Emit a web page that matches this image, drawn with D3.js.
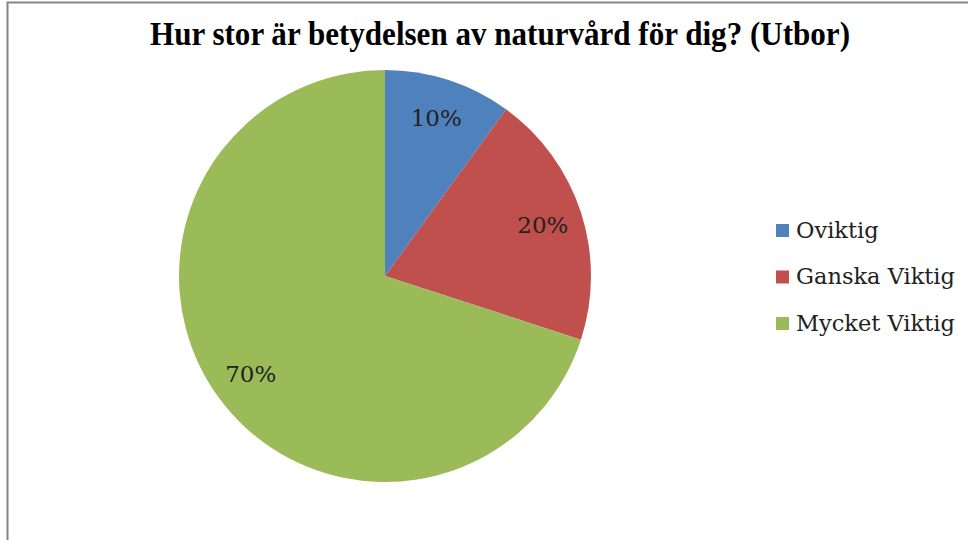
<!DOCTYPE html>
<html>
<head>
<meta charset="utf-8">
<script src="https://cdn.jsdelivr.net/npm/d3@7"></script>
<style>
  body { margin: 0; background: #fff; }
  svg { display: block; }
</style>
</head>
<body>
<div id="chart"></div>
<script>
// data
const categories = ["Oviktig", "Ganska Viktig", "Mycket Viktig"]
const values = [10, 20, 70]
const colors = ["#4f81bd", "#c0504d", "#9bbb59"]

const width = 968
const height = 540
const cx = 385
const cy = 276
const radius = 206

const svg = d3.select("#chart")
	.append("svg")
	.attr("width", width)
	.attr("height", height)

// frame
svg.append("rect")
	.attr("x", 7.5)
	.attr("y", 2.5)
	.attr("width", width + 20)
	.attr("height", height + 20)
	.attr("fill", "none")
	.attr("stroke", "#868686")
	.attr("stroke-width", 2)

// title
svg.append("text")
	.attr("x", 500)
	.attr("y", 45)
	.attr("text-anchor", "middle")
	.attr("textLength", 700)
	.attr("lengthAdjust", "spacingAndGlyphs")
	.style("font-family", "'Liberation Serif', serif")
	.style("font-weight", "bold")
	.style("font-size", "33px")
	.style("fill", "#000")
	.text("Hur stor är betydelsen av naturvård för dig? (Utbor)")

// pie
const total = d3.sum(values)
const pie = d3.pie().sort(null).value(d => d)
const arcs = pie(values)
const arc = d3.arc().innerRadius(0).outerRadius(radius)
const labelArc = d3.arc().innerRadius(166).outerRadius(166)

const g = svg.append("g")
	.attr("transform", "translate(" + cx + "," + cy + ")")

g.selectAll("path")
	.data(arcs)
	.enter()
	.append("path")
	.attr("d", arc)
	.attr("fill", (d, i) => colors[i])

g.selectAll("text")
	.data(arcs)
	.enter()
	.append("text")
	.attr("transform", d => "translate(" + labelArc.centroid(d) + ")")
	.attr("text-anchor", "middle")
	.attr("dy", "0.35em")
	.style("font-family", "'DejaVu Serif', serif")
	.style("font-size", "23px")
	.style("fill", "#222")
	.text(d => Math.round(d.data / total * 100) + "%")

// legend
const legend = svg.append("g")
	.attr("transform", "translate(776, 230)")

const item = legend.selectAll("g")
	.data(categories)
	.enter()
	.append("g")
	.attr("transform", (d, i) => "translate(0," + (i * 46.5) + ")")

item.append("rect")
	.attr("x", 0)
	.attr("y", -6)
	.attr("width", 13)
	.attr("height", 13)
	.attr("fill", (d, i) => colors[i])

item.append("text")
	.attr("x", 20)
	.attr("y", 0)
	.attr("dy", "0.35em")
	.style("font-family", "'DejaVu Serif', serif")
	.style("font-size", "22.5px")
	.style("fill", "#222")
	.text(d => d)
</script>
</body>
</html>
